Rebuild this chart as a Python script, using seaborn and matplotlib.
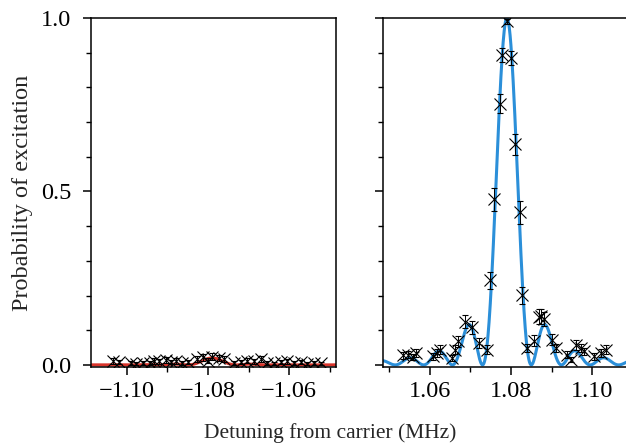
import numpy as np
import pandas as pd
import matplotlib
matplotlib.use("Agg")
import matplotlib.pyplot as plt
import seaborn as sns
from matplotlib.ticker import MultipleLocator, FixedLocator, FuncFormatter

# ---------------- data ----------------
# red sideband (left panel)
red_x = [-1.1034, -1.1018, -1.0989, -1.0977, -1.0961, -1.0944, -1.0932, -1.0920,
         -1.0904, -1.0891, -1.0879, -1.0863, -1.0850, -1.0826, -1.0813, -1.0801,
         -1.0789, -1.0773, -1.0760, -1.0736, -1.0720, -1.0703, -1.0687, -1.0670,
         -1.0654, -1.0638, -1.0621, -1.0605, -1.0588, -1.0572, -1.0556, -1.0539,
         -1.0523]
red_y = [0.012, 0.008, 0.006, 0.004, 0.005, 0.006, 0.012, 0.010,
         0.014, 0.008, 0.012, 0.006, 0.008, 0.018, 0.022, 0.012,
         0.024, 0.020, 0.018, 0.006, 0.008, 0.012, 0.010, 0.018,
         0.006, 0.005, 0.008, 0.010, 0.006, 0.008, 0.004, 0.006,
         0.005]
red_err = [0.008, 0.006, 0.005, 0.004, 0.005, 0.005, 0.008, 0.007,
           0.008, 0.006, 0.008, 0.005, 0.006, 0.009, 0.010, 0.007,
           0.010, 0.009, 0.009, 0.005, 0.006, 0.007, 0.007, 0.009,
           0.005, 0.004, 0.006, 0.007, 0.005, 0.006, 0.004, 0.005,
           0.004]

# blue sideband (right panel)
blue_x = [1.0535, 1.0547, 1.0560, 1.0567, 1.0609, 1.0617, 1.0625, 1.0655,
          1.0662, 1.0670, 1.0687, 1.0705, 1.0722, 1.0741, 1.0749, 1.0758,
          1.0772, 1.0778, 1.0791, 1.0800, 1.0809, 1.0821, 1.0828, 1.0840,
          1.0856, 1.0869, 1.0875, 1.0881, 1.0902, 1.0910, 1.0939, 1.0947,
          1.0959, 1.0972, 1.0980, 1.1004, 1.1021, 1.1033]
blue_y = [0.028, 0.030, 0.022, 0.034, 0.025, 0.034, 0.044, 0.020,
          0.044, 0.068, 0.125, 0.108, 0.063, 0.044, 0.244, 0.478,
          0.753, 0.894, 0.990, 0.885, 0.636, 0.440, 0.201, 0.048,
          0.070, 0.139, 0.140, 0.132, 0.073, 0.049, 0.030, 0.015,
          0.058, 0.049, 0.039, 0.025, 0.034, 0.044]
blue_err = [0.010, 0.010, 0.009, 0.011, 0.010, 0.011, 0.012, 0.009,
            0.012, 0.015, 0.020, 0.019, 0.015, 0.012, 0.025, 0.033,
            0.028, 0.020, 0.007, 0.020, 0.030, 0.033, 0.025, 0.012,
            0.015, 0.021, 0.021, 0.020, 0.015, 0.012, 0.010, 0.008,
            0.014, 0.012, 0.011, 0.010, 0.011, 0.012]

# fit parameters (pi-pulse Rabi line shape)
red_center, red_amp = -1.0790, 0.02
blue_center, blue_amp = 1.0790, 1.0
rabi_freq = 0.003464          # MHz (first zeros at +-0.006 MHz)

left_xlim = (-1.1088, -1.0485)
right_xlim = (1.0485, 1.1088)
y_lim = (-0.006, 1.0)


def rabi(x, c, amp):
    d = (x - c) / rabi_freq
    g = np.sqrt(1 + d ** 2)
    return amp * np.sin(np.pi / 2 * g) ** 2 / g ** 2


xl = np.linspace(*left_xlim, 1200)
xr = np.linspace(*right_xlim, 1200)
fit_left = pd.DataFrame({"x": xl, "p": rabi(xl, red_center, red_amp)})
fit_right = pd.DataFrame({"x": xr, "p": rabi(xr, blue_center, blue_amp)})

# ---------------- style ----------------
sns.set_theme(style="ticks")
plt.rcParams["font.family"] = ["Liberation Serif", "DejaVu Serif"]
TICK_FS = 17.5
plt.rcParams.update({
    "font.size": TICK_FS,
    "axes.linewidth": 1.1,
    "xtick.major.width": 1.1, "ytick.major.width": 1.1,
    "xtick.minor.width": 1.0, "ytick.minor.width": 1.0,
    "xtick.major.size": 6, "ytick.major.size": 6,
    "xtick.minor.size": 3.5, "ytick.minor.size": 3.5,
    "xtick.direction": "out", "ytick.direction": "out",
    "xtick.labelsize": TICK_FS, "ytick.labelsize": TICK_FS,
    "xtick.color": "black", "ytick.color": "black",
    "axes.edgecolor": "black",
})

fig = plt.figure(figsize=(6.26, 4.45), dpi=100)
axL = fig.add_axes([91 / 626, 78 / 445, 245 / 626, 349 / 445])
axR = fig.add_axes([383 / 626, 78 / 445, 245 / 626, 349 / 445])

RED = "#d8342b"
BLUE = "#2b8fd9"

sns.lineplot(data=fit_left, x="x", y="p", ax=axL, color=RED, lw=2.2, zorder=2)
sns.lineplot(data=fit_right, x="x", y="p", ax=axR, color=BLUE, lw=2.2, zorder=2)

ekw = dict(fmt="x", color="black", ms=8, mew=0.8, elinewidth=0.7,
           capsize=2.2, capthick=0.7, zorder=3)
axL.errorbar(red_x, red_y, yerr=red_err, **ekw)
axR.errorbar(blue_x, blue_y, yerr=blue_err, **ekw)

for ax in (axL, axR):
    ax.set_ylim(*y_lim)
    ax.yaxis.set_major_locator(FixedLocator([0.0, 0.5, 1.0]))
    ax.yaxis.set_minor_locator(FixedLocator([0.1, 0.2, 0.3, 0.4, 0.6, 0.7, 0.8, 0.9]))
    ax.xaxis.set_major_locator(MultipleLocator(0.02))
    ax.xaxis.set_minor_locator(MultipleLocator(0.01))
    ax.tick_params(which="both", top=False, right=False)
    ax.tick_params(axis="x", pad=4)
    ax.tick_params(axis="y", pad=8)
    for s in ax.spines.values():
        s.set_visible(True)
        s.set_linewidth(1.1)
    ax.set_xlabel("")
    ax.set_ylabel("")

axL.set_xlim(*left_xlim)
axR.set_xlim(*right_xlim)
axL.xaxis.set_major_formatter(FuncFormatter(lambda v, p: f"{v:.2f}".replace("-", "\u2212")))
axR.xaxis.set_major_formatter(FuncFormatter(lambda v, p: f"{v:.2f}"))
axL.yaxis.set_major_formatter(FuncFormatter(lambda v, p: f"{abs(v):.1f}"))
axR.tick_params(axis="y", labelleft=False)

axL.set_ylabel("Probability of excitation", fontsize=17.5, labelpad=6)
fig.text(330 / 626, 0.027, "Detuning from carrier (MHz)", ha="center", va="center",
         fontsize=15.5)

fig.savefig("out.png", dpi=100)
